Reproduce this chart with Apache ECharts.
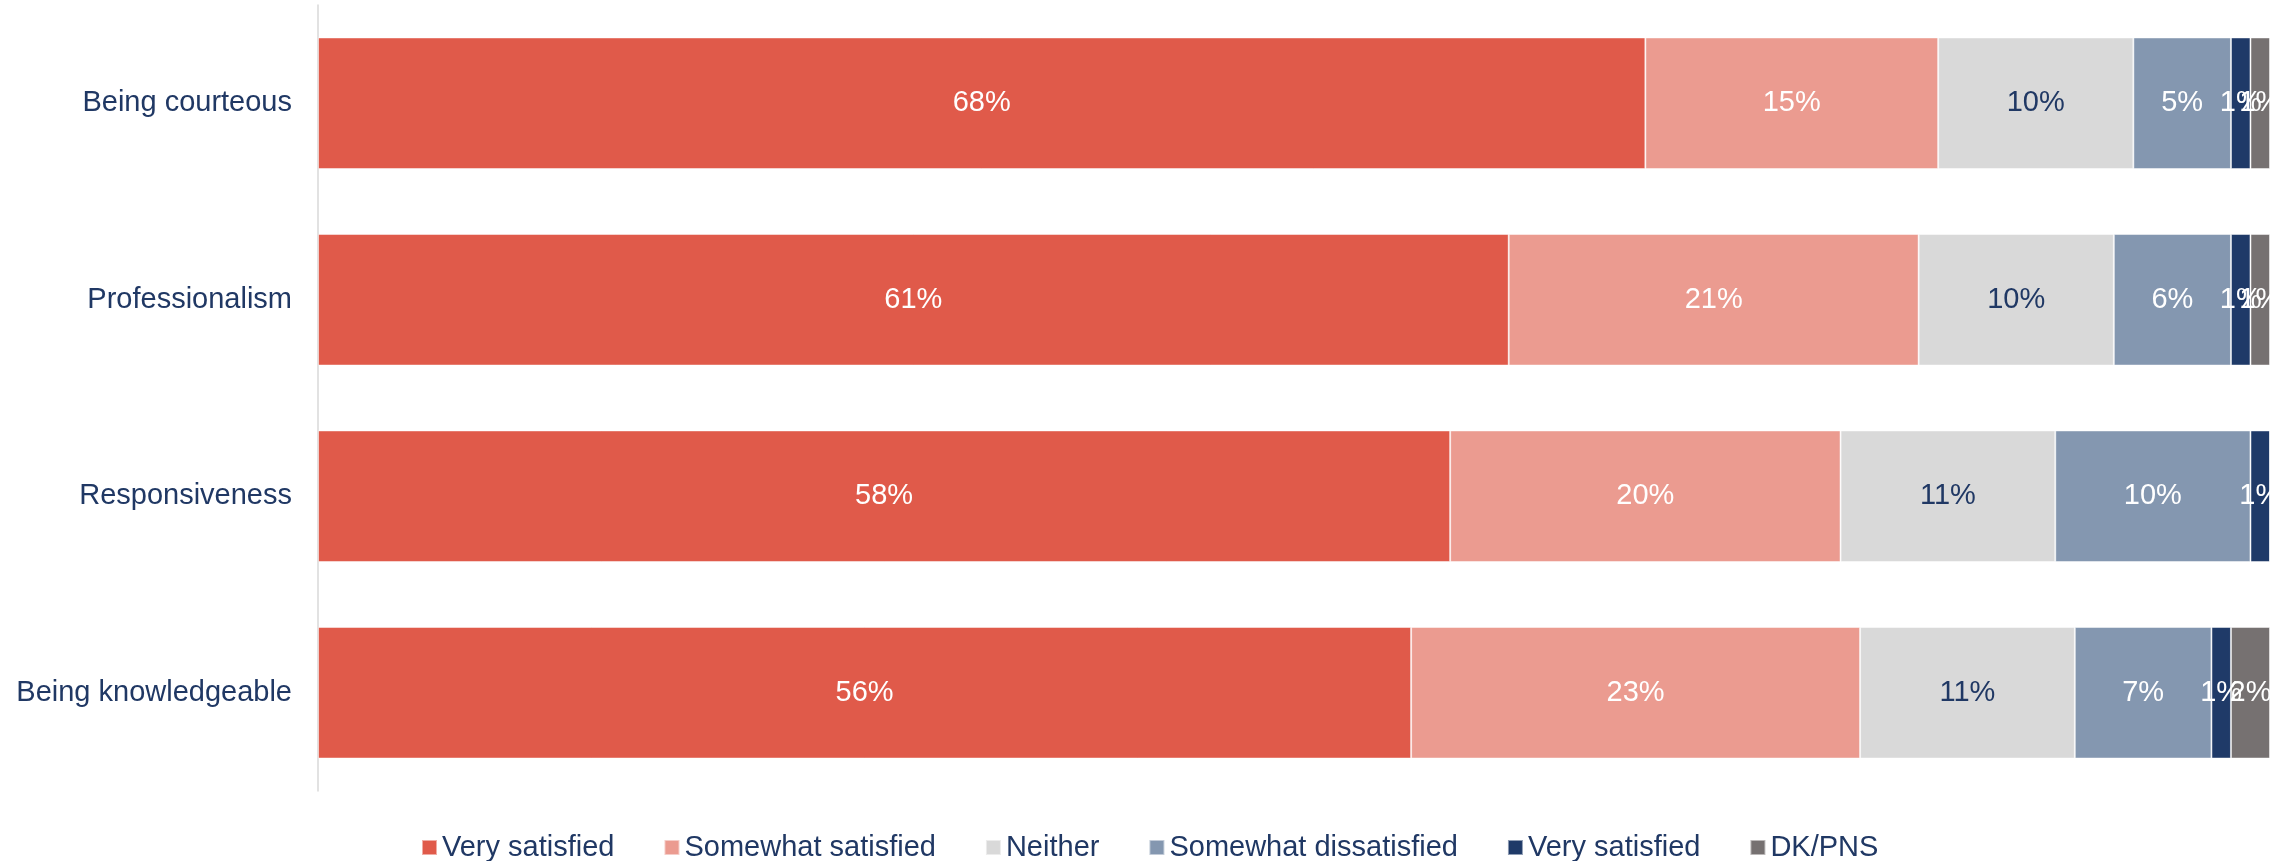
<!DOCTYPE html>
<html>
<head>
<meta charset="utf-8">
<script src="https://cdn.jsdelivr.net/npm/echarts@6/dist/echarts.min.js"></script>
<style>
  html, body { margin: 0; padding: 0; background: #ffffff; }
  #chart { width: 2292px; height: 861px; }
</style>
</head>
<body>
<div id="chart"></div>
<script>
// Satisfaction with staff, by attribute (percent of respondents)
const categories = ['Being courteous', 'Professionalism', 'Responsiveness', 'Being knowledgeable'];

const seriesKeys = ['verySat', 'someSat', 'neither', 'someDis', 'veryDis', 'dkpns'];
const legendLabels = ['Very satisfied', 'Somewhat satisfied', 'Neither', 'Somewhat dissatisfied', 'Very satisfied', 'DK/PNS'];

const verySatisfied        = [68, 61, 58, 56];
const somewhatSatisfied    = [15, 21, 20, 23];
const neither              = [10, 10, 11, 11];
const somewhatDissatisfied = [5, 6, 10, 7];
const veryDissatisfied     = [1, 1, 1, 1];
const dkPns                = [1, 1, 0, 2];

const values = [verySatisfied, somewhatSatisfied, neither, somewhatDissatisfied, veryDissatisfied, dkPns];
const colors = ['#E05A4A', '#EB9B90', '#D9D9D9', '#8497B0', '#1F3A68', '#767171'];
const labelColors = ['#ffffff', '#ffffff', '#203864', '#ffffff', '#ffffff', '#ffffff'];

const textNavy = '#203864';
const FONT = 'Liberation Sans, Arial, sans-serif';

const chart = echarts.init(document.getElementById('chart'), null, { renderer: 'canvas' });

const series = seriesKeys.map((key, i) => ({
  name: key,
  type: 'bar',
  stack: 'total',
  barWidth: '67%',
  itemStyle: { color: colors[i], borderColor: 'rgba(255,255,255,0.5)', borderWidth: 1 },
  label: {
    show: true,
    position: 'inside',
    color: labelColors[i],
    fontFamily: FONT,
    fontSize: 29,
    formatter: p => (p.value > 0 ? p.value + '%' : '')
  },
  labelLayout: { hideOverlap: false },
  emphasis: { disabled: true },
  data: values[i]
}));

chart.setOption({
  animation: false,
  backgroundColor: '#ffffff',
  grid: { left: 318, right: 22, top: 5, bottom: 70, containLabel: false },
  xAxis: {
    type: 'value',
    min: 0,
    max: 100,
    show: false
  },
  yAxis: {
    type: 'category',
    inverse: true,
    data: categories,
    axisLine: { show: true, lineStyle: { color: '#D9D9D9', width: 1.5 } },
    axisTick: { show: false },
    axisLabel: {
      color: textNavy,
      fontFamily: FONT,
      fontSize: 29,
      margin: 26
    },
    splitLine: { show: false }
  },
  legend: {
    left: 416,
    top: 828,
    itemWidth: 15,
    itemHeight: 15,
    itemGap: 49,
    icon: 'rect',
    data: seriesKeys,
    formatter: name => legendLabels[seriesKeys.indexOf(name)],
    textStyle: { color: textNavy, fontFamily: FONT, fontSize: 29 }
  },
  series: series
});
</script>
</body>
</html>
